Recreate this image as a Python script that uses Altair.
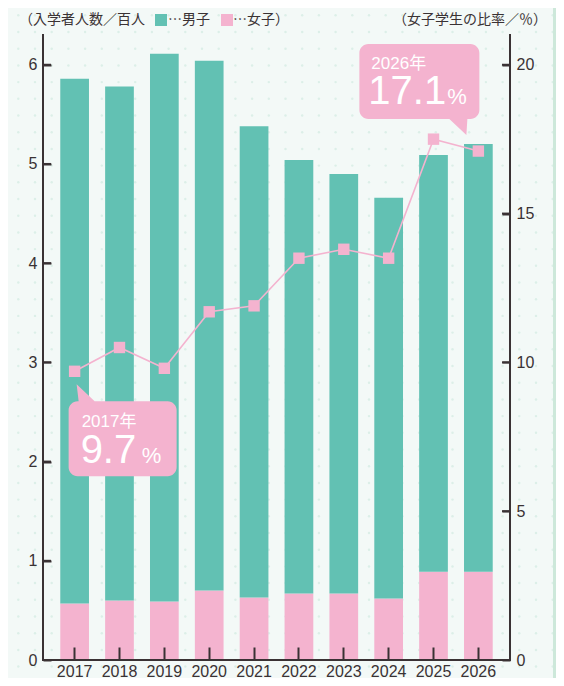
import altair as alt
import pandas as pd

# ---- data ----
years = ["2017", "2018", "2019", "2020", "2021", "2022", "2023", "2024", "2025", "2026"]
male = [5.29, 5.18, 5.52, 5.34, 4.75, 4.37, 4.23, 4.04, 4.20, 4.31]
female = [0.57, 0.60, 0.59, 0.70, 0.63, 0.67, 0.67, 0.62, 0.89, 0.89]
ratio = [9.7, 10.5, 9.8, 11.7, 11.9, 13.5, 13.8, 13.5, 17.5, 17.1]
left_ticks = [0, 1, 2, 3, 4, 5, 6]
right_ticks = [0, 5, 10, 15, 20]
callout_years = ["2017", "2026"]
callout_values = ["9.7", "17.1"]

# ---- style ----
TEAL = "#62c1b3"
PINK = "#f4b3cf"
INK = "#3a3234"
BG = "#f3f9f7"
DOT = "#dcefe8"
STRIP = "#cde8da"
NUM_FONT = "Liberation Sans"
JP_FONT = "Noto Sans CJK JP"
W, H = 467, 626
LEFT_MAX = 6.31
RIGHT_MAX = LEFT_MAX * 10 / 3

rows = []
for y, m, f in zip(years, male, female):
    rows.append({"year": y, "sex": "女子", "count": f, "k": 0})
    rows.append({"year": y, "sex": "男子", "count": m, "k": 1})
bar_df = pd.DataFrame(rows)
line_df = pd.DataFrame({"year": years, "ratio": ratio})

# axes draw their own inward ticks: the axis is pulled inside by its tick length
x_scale = alt.Scale(domain=years, paddingInner=0.36, paddingOuter=0.385)
x_axis = alt.Axis(title=None, labelAngle=0, domain=False, grid=False, ticks=True,
                  tickSize=13, offset=-13, tickColor=INK, tickWidth=2, tickOpacity=1,
                  labelPadding=3, labelFont=NUM_FONT, labelFontSize=16,
                  labelColor=INK, zindex=2)
x_main = alt.X("year:N", scale=x_scale, axis=x_axis)

y_left_scale = alt.Scale(domain=[0, LEFT_MAX], nice=False, zero=True)
y_right_scale = alt.Scale(domain=[0, RIGHT_MAX], nice=False, zero=True)
y_left_axis = alt.Axis(title=None, values=left_ticks, domain=False, grid=False,
                       ticks=True, tickSize=8, offset=-8, tickColor=INK, tickWidth=2,
                       tickOpacity=1, labelPadding=6, labelFont=NUM_FONT,
                       labelFontSize=16, labelColor=INK, format="d", zindex=2)
y_right_axis = alt.Axis(title=None, orient="right", values=right_ticks,
                        domain=False, grid=False, ticks=True, tickSize=8, offset=-8,
                        tickColor=INK, tickWidth=2, tickOpacity=1,
                        labelPadding=6, labelFont=NUM_FONT, labelFontSize=16,
                        labelColor=INK, format="d", zindex=2)
y_l = alt.Y("count:Q", scale=y_left_scale, axis=y_left_axis)

# ---- left scale group: stacked bars + left ticks + bottom ticks ----
bars = alt.Chart(bar_df).mark_bar().encode(
    x=x_main,
    y=alt.Y("count:Q", stack="zero", scale=y_left_scale, axis=y_left_axis),
    color=alt.Color("sex:N", scale=alt.Scale(domain=["男子", "女子"], range=[TEAL, PINK]), legend=None),
    order=alt.Order("k:Q", sort="ascending"),
)
left_tick_marks = alt.Chart(pd.DataFrame({"count": left_ticks})).mark_rule(
    color=INK, strokeWidth=2, opacity=1).encode(y=y_l, x=alt.value(0), x2=alt.value(8))
left_group = alt.layer(bars, left_tick_marks)

# ---- right scale group: ratio line, points, callouts, right ticks ----
y_r = alt.Y("ratio:Q", scale=y_right_scale, axis=y_right_axis)

line = alt.Chart(line_df).mark_line(color=PINK, strokeWidth=1.6).encode(x=x_main, y=y_r)
pts = alt.Chart(line_df).mark_point(shape="square", filled=True, size=130, color=PINK,
                                     opacity=1, strokeWidth=0).encode(x=x_main, y=y_r)
right_tick_marks = alt.Chart(pd.DataFrame({"ratio": right_ticks})).mark_rule(
    color=INK, strokeWidth=2, opacity=1).encode(y=y_r, x=alt.value(W - 8), x2=alt.value(W))

SC = 100.0


def build_path(cmds):
    out = []
    for c in cmds:
        if c[0] in ("M", "L"):
            out.append(f"{c[0]}{c[1] / SC:.4f},{c[2] / SC:.4f}")
        elif c[0] == "A":
            rr = c[1] / SC
            out.append(f"A{rr:.4f},{rr:.4f} 0 0 1 {c[2] / SC:.4f},{c[3] / SC:.4f}")
        elif c[0] == "Z":
            out.append("Z")
    return "".join(out)


r = 9
x0, y0, x1, y1 = -6, 30, 102, 105
path1 = build_path([
    ("M", x0 + r, y0), ("L", 4, y0), ("L", 2, 13), ("L", 20, y0), ("L", x1 - r, y0),
    ("A", r, x1, y0 + r), ("L", x1, y1 - r), ("A", r, x1 - r, y1),
    ("L", x0 + r, y1), ("A", r, x0, y1 - r), ("L", x0, y0 + r), ("A", r, x0 + r, y0), ("Z",),
])
x0, y0, x1, y1 = -119, -107, 1, -32
path2 = build_path([
    ("M", x0 + r, y0), ("L", x1 - r, y0), ("A", r, x1, y0 + r), ("L", x1, y1 - r),
    ("A", r, x1 - r, y1), ("L", -11, y1), ("L", -12, -16), ("L", -29, y1),
    ("L", x0 + r, y1), ("A", r, x0, y1 - r), ("L", x0, y0 + r), ("A", r, x0 + r, y0), ("Z",),
])


def callout_df(i):
    yr = callout_years[i]
    return pd.DataFrame({"year": [yr], "ratio": [ratio[years.index(yr)]],
                         "ylabel": [yr + "年"], "val": [callout_values[i]], "pct": ["%"]})


def callout(i, path, texts):
    d = callout_df(i)
    layers = [alt.Chart(d).mark_point(shape=path, size=(2 * SC) ** 2, filled=True,
                                      color=PINK, opacity=1, strokeWidth=0)
              .encode(x=x_main, y=y_r)]
    for field, size, dx, dy in texts:
        layers.append(alt.Chart(d).mark_text(align="left", baseline="alphabetic", dx=dx, dy=dy,
                                             fontSize=size, font=f"{NUM_FONT}, {JP_FONT}",
                                             color="white")
                      .encode(x=x_main, y=y_r, text=f"{field}:N"))
    return layers


c1 = callout(0, path1, [("ylabel", 17, 7, 56), ("val", 40, 6, 92), ("pct", 22, 67, 92)])
c2 = callout(1, path2, [("ylabel", 17, -107, -82), ("val", 40, -110, -47), ("pct", 22, -31, -47)])

right_group = alt.layer(line, pts, right_tick_marks, *c1, *c2)

# ---- frame and titles ----
one = alt.Data(values=[{}])

rules = [
    alt.Chart(one).mark_rule(color=INK, strokeWidth=2).encode(x=alt.value(0), y=alt.value(0), y2=alt.value(H)),
    alt.Chart(one).mark_rule(color=INK, strokeWidth=2).encode(x=alt.value(W), y=alt.value(0), y2=alt.value(H)),
    alt.Chart(one).mark_rule(color=INK, strokeWidth=2).encode(y=alt.value(H), x=alt.value(-1), x2=alt.value(W + 1)),
]

strip = alt.Chart(one).mark_rect(color=STRIP).encode(
    x=alt.value(W + 43), x2=alt.value(W + 70), y=alt.value(-40), y2=alt.value(H + 60))


def label(text, x, y, align="left", color=INK):
    return alt.Chart(one).mark_text(text=text, align=align, baseline="middle", font=JP_FONT,
                                    fontSize=14, color=color).encode(x=alt.value(x), y=alt.value(y))


def sw(x, color):
    return alt.Chart(one).mark_square(size=144, color=color, opacity=1).encode(
        x=alt.value(x), y=alt.value(-14))


titles = [
    label("（入学者人数／百人", -24, -14),
    sw(118, TEAL),
    label("…男子", 125, -14),
    sw(184, PINK),
    label("…女子）", 190, -14),
    label("（女子学生の比率／％）", 504, -14, align="right"),
]

main = alt.layer(strip, left_group, right_group, *rules, *titles).resolve_scale(y="independent")

# faint dotted paper texture behind everything (decoration only)
dots = alt.Chart(alt.sequence(0, 34 * 42, as_="i")).transform_calculate(
    px="-41.4 + 16.7 * (datum.i % 34)",
    py="-35.4 + 16.7 * floor(datum.i / 34)",
).mark_circle(size=6, color=DOT, opacity=1).encode(
    x=alt.X("px:Q", scale=None, axis=None),
    y=alt.Y("py:Q", scale=None, axis=None),
)

chart = alt.layer(dots, main).resolve_scale(x="independent", y="independent").properties(
    width=W, height=H,
    padding={"left": 35, "top": 26, "right": 46, "bottom": 18},
    autosize=alt.AutoSizeParams(type="none"),
).configure(background=BG).configure_view(stroke=None)

chart.save("out.html", embed_options={"renderer": "svg", "actions": False})
